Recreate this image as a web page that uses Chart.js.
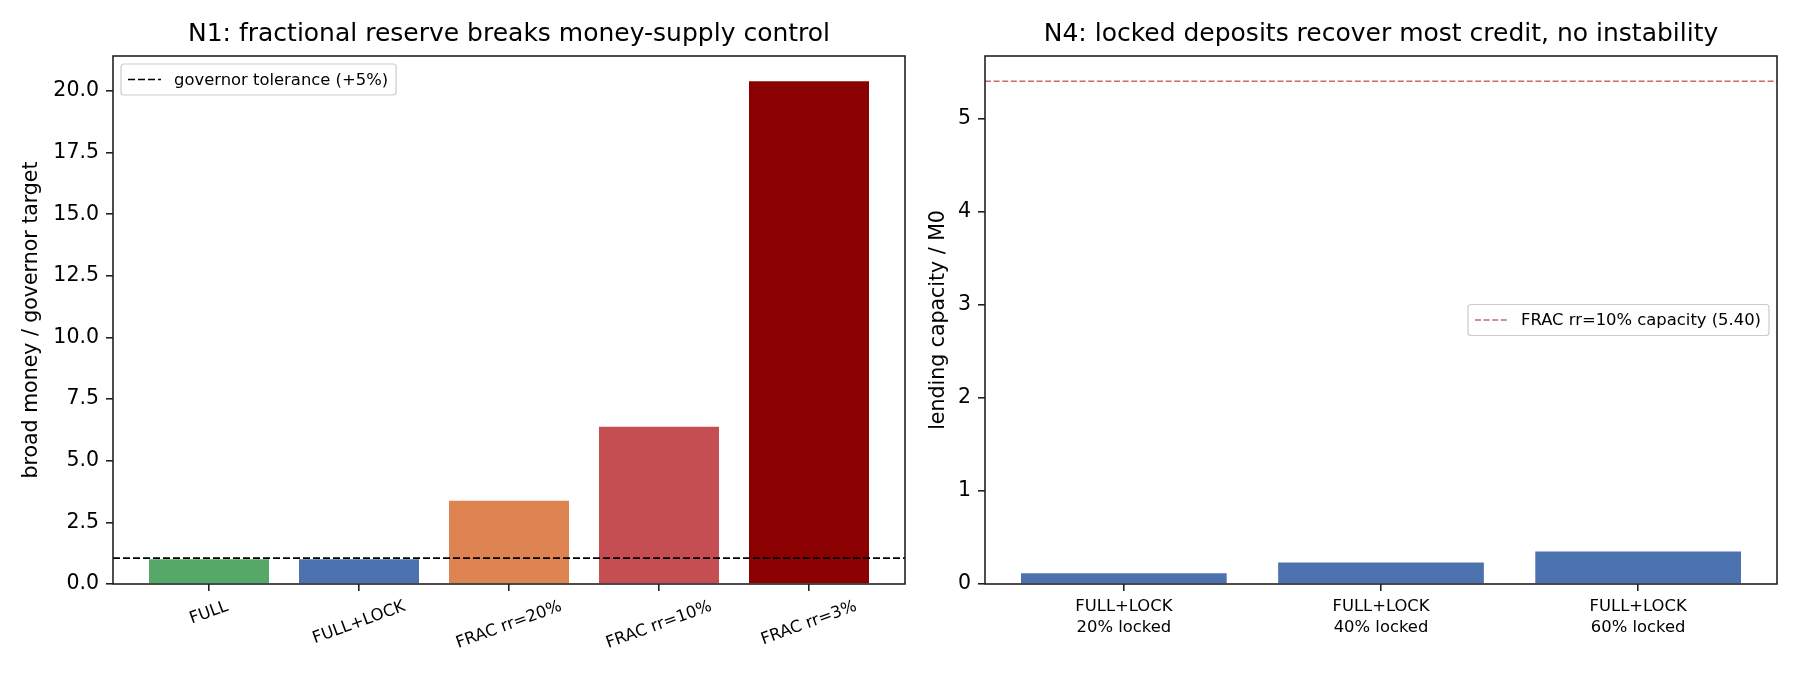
<!DOCTYPE html>
<html>
<head>
<meta charset="utf-8">
<script src="https://cdn.jsdelivr.net/npm/chart.js@4.4.1/dist/chart.umd.min.js"></script>
<style>
  body { margin: 0; background: #fff; }
  #wrap { position: relative; width: 1800px; height: 675px; }
  canvas { position: absolute; top: 0; }
</style>
</head>
<body>
<div id="wrap">
  <canvas id="n1-chart" width="915" height="675" style="left:0"></canvas>
  <canvas id="n4-chart" width="885" height="675" style="left:915px"></canvas>
</div>
<script>
// N1 panel
const modes = ["FULL", "FULL+LOCK", "FRAC rr=20%", "FRAC rr=10%", "FRAC rr=3%"];
const broadMoneyRatio = [1.0, 1.0, 3.38, 6.38, 20.4];
const toleranceLevel = 1.05;
const n1Ticks = [0, 2.5, 5, 7.5, 10, 12.5, 15, 17.5, 20];

// N4 panel
const lockScenarios = [["FULL+LOCK", "20% locked"], ["FULL+LOCK", "40% locked"], ["FULL+LOCK", "60% locked"]];
const lendingCapacity = [0.115, 0.232, 0.35];
const fracCapacity = 5.40;
const n4Ticks = [0, 1, 2, 3, 4, 5];

const modeColors = ["#55a868", "#4c72b0", "#dd8452", "#c44e52", "#8b0000"];

Chart.defaults.font.family = "'DejaVu Sans', sans-serif";
Chart.defaults.color = "#000";

const SMALL = 16.4;

// box around the plot area, like matplotlib spines
const frame = {
  id: "frame",
  afterDraw(chart) {
    const { ctx, chartArea: a } = chart;
    ctx.save();
    ctx.strokeStyle = "#222";
    ctx.lineWidth = 1.6;
    ctx.strokeRect(a.left, a.top, a.right - a.left, a.bottom - a.top);
    ctx.restore();
  }
};

// framed legend drawn inside the axes
const boxLegend = {
  id: "boxLegend",
  afterDraw(chart, args, opts) {
    if (!opts.text) return;
    const { ctx, chartArea: a } = chart;
    ctx.save();
    ctx.font = SMALL + "px 'DejaVu Sans'";
    const tw = ctx.measureText(opts.text).width;
    const w = 53 + tw + 8, h = 31;
    const x = opts.side === "right" ? a.right - 8 - w : a.left + 8;
    const y = opts.vcenter ? (a.top + a.bottom) / 2 - h / 2 : a.top + 8;
    ctx.fillStyle = "rgba(255,255,255,0.8)";
    ctx.strokeStyle = "#cccccc";
    ctx.lineWidth = 1.2;
    ctx.beginPath();
    ctx.roundRect(x, y, w, h, 3);
    ctx.fill();
    ctx.stroke();
    ctx.strokeStyle = opts.color;
    ctx.lineWidth = opts.width;
    ctx.setLineDash(opts.dash);
    ctx.beginPath();
    ctx.moveTo(x + 7, y + h / 2);
    ctx.lineTo(x + 40, y + h / 2);
    ctx.stroke();
    ctx.fillStyle = "#000";
    ctx.textBaseline = "middle";
    ctx.fillText(opts.text, x + 53, y + h / 2 + 1);
    ctx.restore();
  }
};

// x labels rotated 20 degrees, centred under each tick
const rotatedLabels = {
  id: "rotatedLabels",
  afterDraw(chart, args, opts) {
    if (!opts.labels) return;
    const { ctx, chartArea: a } = chart;
    const xs = chart.scales.x;
    const ang = 20 * Math.PI / 180;
    ctx.save();
    ctx.font = SMALL + "px 'DejaVu Sans'";
    ctx.fillStyle = "#000";
    ctx.textAlign = "center";
    ctx.textBaseline = "middle";
    opts.labels.forEach((lab, i) => {
      const tw = ctx.measureText(lab).width;
      const bh = tw * Math.sin(ang) + 15 * Math.cos(ang);
      ctx.save();
      ctx.translate(xs.getPixelForValue(i), a.bottom + 15 + bh / 2);
      ctx.rotate(-ang);
      ctx.fillText(lab, 0, 0);
      ctx.restore();
    });
    ctx.restore();
  }
};

function tickGrid() {
  return { offset: false, drawOnChartArea: false, drawTicks: true, tickLength: 7, color: "#222", lineWidth: 1.6 };
}

// N1
const n1Min = -0.64, n1Max = modes.length - 1 + 0.64;
const n1Top = Math.max(...broadMoneyRatio) * 1.05;

new Chart(document.getElementById("n1-chart"), {
  data: {
    datasets: [
      {
        type: "line",
        label: "governor tolerance (+5%)",
        data: [{ x: n1Min, y: toleranceLevel }, { x: n1Max, y: toleranceLevel }],
        borderColor: "#000",
        borderWidth: 1.7,
        borderDash: [7, 3],
        pointRadius: 0,
        order: 0
      },
      {
        type: "bar",
        label: "broad money",
        data: broadMoneyRatio.map((v, i) => ({ x: i, y: v })),
        backgroundColor: modeColors,
        borderWidth: 0,
        barPercentage: 0.8,
        categoryPercentage: 1.0,
        order: 1
      }
    ]
  },
  options: {
    responsive: false,
    animation: false,
    devicePixelRatio: 1,
    layout: { padding: { left: 0, right: 10, top: 0, bottom: 0 } },
    plugins: {
      legend: { display: false },
      tooltip: { enabled: false },
      title: {
        display: true,
        text: "N1: fractional reserve breaks money-supply control",
        font: { size: 25, weight: "normal" },
        color: "#000",
        fullSize: false,
        padding: { top: 19, bottom: 7 }
      },
      boxLegend: { text: "governor tolerance (+5%)", color: "#000", width: 1.7, dash: [7, 3] },
      rotatedLabels: { labels: modes }
    },
    scales: {
      x: {
        type: "linear",
        offset: false,
        min: n1Min,
        max: n1Max,
        afterBuildTicks: (axis) => { axis.ticks = modes.map((m, i) => ({ value: i })); },
        afterFit: (scale) => { scale.height = 91; },
        ticks: { display: false },
        grid: tickGrid(),
        border: { display: false }
      },
      y: {
        min: 0,
        max: n1Top,
        afterBuildTicks: (axis) => { axis.ticks = n1Ticks.map((v) => ({ value: v })); },
        afterFit: (scale) => { scale.width = 113; },
        ticks: { font: { size: 20.5 }, color: "#000", padding: 7, callback: (v) => v.toFixed(1) },
        grid: tickGrid(),
        border: { display: false },
        title: {
          display: true,
          text: "broad money / governor target",
          font: { size: 20.5 },
          color: "#000",
          padding: { top: 19, bottom: 0 }
        }
      }
    }
  },
  plugins: [frame, boxLegend, rotatedLabels]
});

// N4
const n4Min = -0.54, n4Max = lockScenarios.length - 1 + 0.54;
const n4Top = Math.max(fracCapacity, ...lendingCapacity) * 1.05;

new Chart(document.getElementById("n4-chart"), {
  data: {
    datasets: [
      {
        type: "line",
        label: "FRAC rr=10% capacity (5.40)",
        data: [{ x: n4Min, y: fracCapacity }, { x: n4Max, y: fracCapacity }],
        borderColor: "rgba(196,78,82,0.85)",
        borderWidth: 1.5,
        borderDash: [6, 2.6],
        pointRadius: 0,
        order: 0
      },
      {
        type: "bar",
        label: "lending capacity",
        data: lendingCapacity.map((v, i) => ({ x: i, y: v })),
        backgroundColor: "#4c72b0",
        borderWidth: 0,
        barPercentage: 0.8,
        categoryPercentage: 1.0,
        order: 1
      }
    ]
  },
  options: {
    responsive: false,
    animation: false,
    devicePixelRatio: 1,
    layout: { padding: { left: 0, right: 23, top: 0, bottom: 0 } },
    plugins: {
      legend: { display: false },
      tooltip: { enabled: false },
      title: {
        display: true,
        text: "N4: locked deposits recover most credit, no instability",
        font: { size: 25, weight: "normal" },
        color: "#000",
        fullSize: false,
        padding: { top: 19, bottom: 7 }
      },
      boxLegend: {
        text: "FRAC rr=10% capacity (5.40)",
        color: "rgba(196,78,82,0.85)",
        width: 1.5,
        dash: [6, 2.6],
        side: "right",
        vcenter: true
      }
    },
    scales: {
      x: {
        type: "linear",
        offset: false,
        min: n4Min,
        max: n4Max,
        afterBuildTicks: (axis) => { axis.ticks = lockScenarios.map((s, i) => ({ value: i })); },
        afterFit: (scale) => { scale.height = 91; },
        ticks: {
          font: { size: SMALL, lineHeight: "21px" },
          color: "#000",
          padding: 5,
          maxRotation: 0,
          autoSkip: false,
          callback: (v) => lockScenarios[v]
        },
        grid: tickGrid(),
        border: { display: false }
      },
      y: {
        min: 0,
        max: n4Top,
        afterBuildTicks: (axis) => { axis.ticks = n4Ticks.map((v) => ({ value: v })); },
        afterFit: (scale) => { scale.width = 70; },
        ticks: { font: { size: 20.5 }, color: "#000", padding: 7, callback: (v) => String(v) },
        grid: tickGrid(),
        border: { display: false },
        title: {
          display: true,
          text: "lending capacity / M0",
          font: { size: 20.5 },
          color: "#000",
          padding: { top: 11, bottom: 0 }
        }
      }
    }
  },
  plugins: [frame, boxLegend]
});
</script>
</body>
</html>
